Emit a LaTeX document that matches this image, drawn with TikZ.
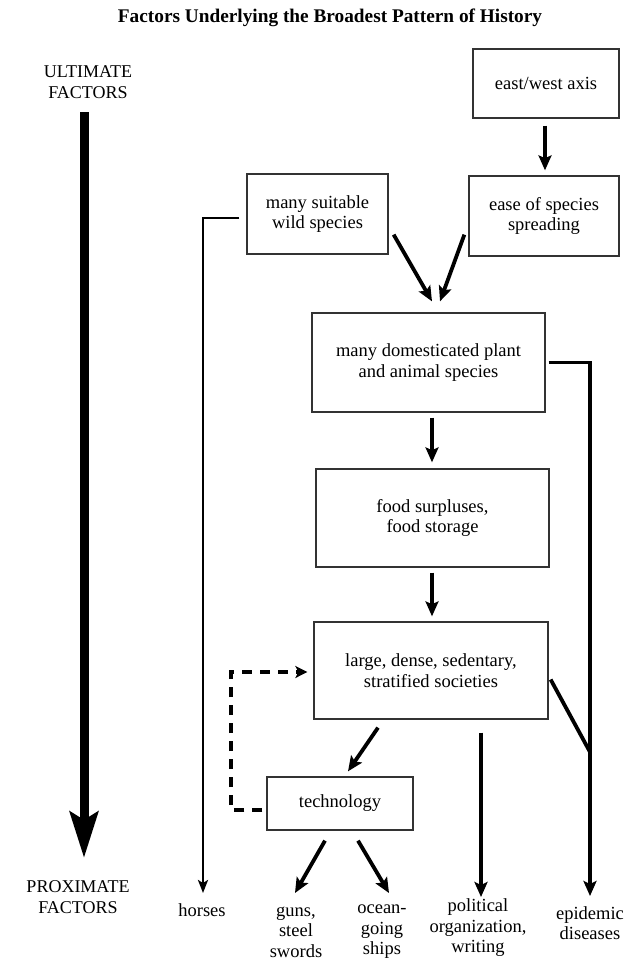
\documentclass[tikz,border=0pt]{standalone}
\usepackage{fontspec}
\setmainfont{Liberation Serif}
\usetikzlibrary{arrows.meta,calc}
\newcommand{\boxfnt}{\fontsize{18.5}{20.5}\selectfont}
\newcommand{\capfnt}{\fontsize{18}{20.5}\selectfont}
\newcommand{\ttlfnt}{\fontsize{19.3}{22}\selectfont\bfseries}
\begin{document}
\begin{tikzpicture}[x=1pt,y=-1pt,
  box/.style={draw=black!80, line width=1.3pt, inner sep=0pt, align=center, font=\boxfnt},
  lbl/.style={inner sep=0pt, align=center, font=\boxfnt},
  caplbl/.style={inner sep=0pt, align=center, font=\capfnt},
  arr/.style={line width=3.8pt, -{Stealth[length=15pt,width=13pt,inset=3pt]}},
  thinarr/.style={line width=2.8pt, -{Stealth[length=13pt,width=10pt,inset=3pt]}},
  plainln/.style={line width=3.8pt},
  bigarr/.style={line width=9pt, -{Stealth[length=46pt,width=28pt,inset=8pt]}},
  dasharr/.style={line width=4pt, dash pattern=on 10pt off 8pt, -{Stealth[length=12pt,width=12pt,inset=3pt]}}
]
\useasboundingbox (0,0) rectangle (629,961);
\fill[white] (0,0) rectangle (629,961);

% title and side labels
\node[font=\ttlfnt, inner sep=0pt] (title) at (330,18) {Factors Underlying the Broadest Pattern of History};
\node[caplbl] (ult) at (88,82) {ULTIMATE\\FACTORS};
\node[caplbl] (prox) at (78,897) {PROXIMATE\\FACTORS};

% boxes
\node[box, minimum width=146pt, minimum height=69pt] (ew) at (546,83.5) {east/west axis};
\node[box, minimum width=141pt, minimum height=80pt] (wild) at (317.5,214) {many suitable\\wild species};
\node[box, minimum width=150pt, minimum height=80pt] (ease) at (544,216) {ease of species\\spreading};
\node[box, minimum width=233pt, minimum height=99pt] (dom) at (428.5,362.5) {many domesticated plant\\and animal species};
\node[box, minimum width=233pt, minimum height=98pt] (food) at (432.5,518) {food surpluses,\\food storage};
\node[box, minimum width=234pt, minimum height=97pt] (large) at (431,670.5) {large, dense, sedentary,\\stratified societies};
\node[box, minimum width=146pt, minimum height=53pt] (tech) at (340,803.5) {technology};

% bottom labels
\node[lbl] (horses) at (202,910) {horses};
\node[lbl] (guns) at (296,932) {guns,\\steel\\swords};
\node[lbl] (ocean) at (382,932) {ocean-\\going\\ships};
\node[lbl] (polit) at (478,928) {political\\organization,\\writing};
\node[lbl] (epi) at (590,923) {epidemic\\diseases};

% big ultimate -> proximate arrow
\coordinate (bigtop) at (84,112);
\coordinate (bigtip) at (84,858);
\draw[bigarr] (bigtop) -- (bigtip);

% connectors
\draw[arr] ($(ew.south)+(-1,7)$) -- ($(ease.north)+(1,-5)$);
\draw[arr] ($(wild.south east)+(5,-20)$) -- ($(dom.north)+(3.5,-11)$);
\draw[arr] ($(ease.south west)+(-4,-22)$) -- ($(dom.north)+(11.5,-11)$);
\draw[arr] ($(dom.south)+(3.5,5)$) -- ($(food.north)+(-0.5,-6)$);
\draw[arr] ($(food.south)+(-0.5,5)$) -- ($(large.north)+(1,-5)$);
\draw[arr] ($(large.south)+(-53,8)$) -- ($(tech.north)+(8,-5)$);
\draw[arr] ($(tech.south)+(-15,10)$) -- ($(guns)+(-1,-39)$);
\draw[arr] ($(tech.south)+(18,10)$) -- ($(ocean)+(7,-39)$);
\draw[arr] ($(large.south)+(50,13)$) -- ($(polit)+(3,-31)$);
\draw[thinarr] ($(wild.west)+(-7,4)$) -| ($(horses)+(1,-17)$);
\draw[arr] ($(dom.east)+(3,0)$) -| ($(epi)+(0,-27)$);
\coordinate (jn) at ($(epi)+(0,-171)$);
\draw[plainln] ($(large.east)+(2,9)$) -- (jn);
\draw[dasharr] ($(tech.west)+(-4,6.5)$) -- ++(-31,0) |- ($(large.west)+(-6,1.5)$);
\end{tikzpicture}
\end{document}
